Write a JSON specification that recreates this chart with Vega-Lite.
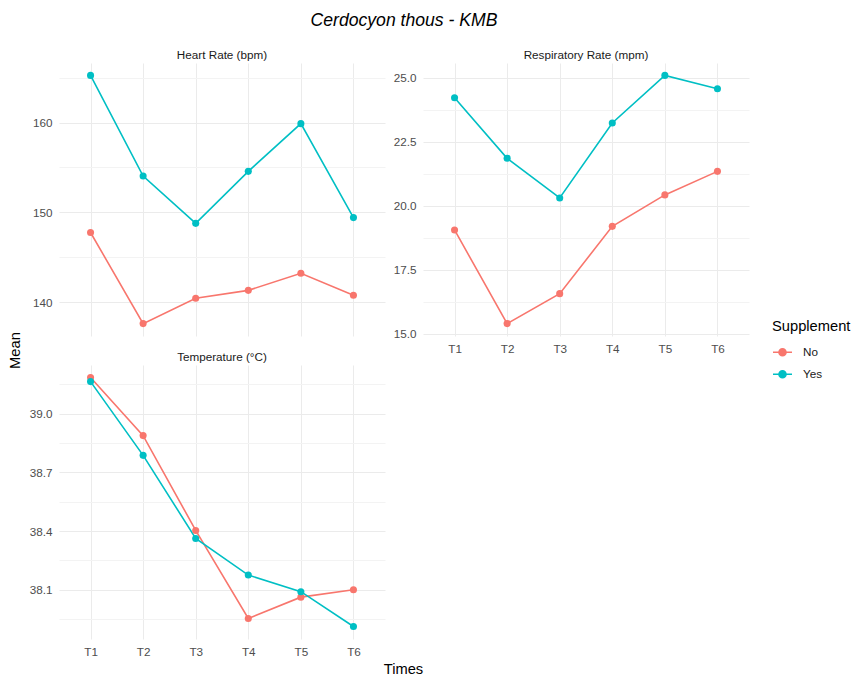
{
  "$schema": "https://vega.github.io/schema/vega-lite/v6.json",
  "autosize": {"type": "none"},
  "padding": {"left": 59, "top": 63, "right": 793, "bottom": 612},
  "background": "white",
  "bounds": "flush",
  "columns": 2,
  "spacing": {"row": 29, "column": 38},
  "title": {"text": "Cerdocyon thous - KMB", "fontStyle": "italic", "fontSize": 17.6, "fontWeight": "normal", "font": "Liberation Sans", "color": "black", "anchor": "middle", "baseline": "alphabetic", "offset": 6.5, "dx": 345, "frame": "group"},
  "data": {"values": [
    {"panel": "HR", "time": "T1", "supplement": "No", "mean": 147.75},
    {"panel": "HR", "time": "T2", "supplement": "No", "mean": 137.59},
    {"panel": "HR", "time": "T3", "supplement": "No", "mean": 140.41},
    {"panel": "HR", "time": "T4", "supplement": "No", "mean": 141.3},
    {"panel": "HR", "time": "T5", "supplement": "No", "mean": 143.2},
    {"panel": "HR", "time": "T6", "supplement": "No", "mean": 140.75},
    {"panel": "HR", "time": "T1", "supplement": "Yes", "mean": 165.27},
    {"panel": "HR", "time": "T2", "supplement": "Yes", "mean": 154.05},
    {"panel": "HR", "time": "T3", "supplement": "Yes", "mean": 148.77},
    {"panel": "HR", "time": "T4", "supplement": "Yes", "mean": 154.57},
    {"panel": "HR", "time": "T5", "supplement": "Yes", "mean": 159.89},
    {"panel": "HR", "time": "T6", "supplement": "Yes", "mean": 149.41},
    {"panel": "RR", "time": "T1", "supplement": "No", "mean": 19.05},
    {"panel": "RR", "time": "T2", "supplement": "No", "mean": 15.39},
    {"panel": "RR", "time": "T3", "supplement": "No", "mean": 16.56},
    {"panel": "RR", "time": "T4", "supplement": "No", "mean": 19.19},
    {"panel": "RR", "time": "T5", "supplement": "No", "mean": 20.42},
    {"panel": "RR", "time": "T6", "supplement": "No", "mean": 21.34},
    {"panel": "RR", "time": "T1", "supplement": "Yes", "mean": 24.22},
    {"panel": "RR", "time": "T2", "supplement": "Yes", "mean": 21.85},
    {"panel": "RR", "time": "T3", "supplement": "Yes", "mean": 20.3},
    {"panel": "RR", "time": "T4", "supplement": "Yes", "mean": 23.23},
    {"panel": "RR", "time": "T5", "supplement": "Yes", "mean": 25.09},
    {"panel": "RR", "time": "T6", "supplement": "Yes", "mean": 24.57},
    {"panel": "TEMP", "time": "T1", "supplement": "No", "mean": 39.185},
    {"panel": "TEMP", "time": "T2", "supplement": "No", "mean": 38.888},
    {"panel": "TEMP", "time": "T3", "supplement": "No", "mean": 38.403},
    {"panel": "TEMP", "time": "T4", "supplement": "No", "mean": 37.953},
    {"panel": "TEMP", "time": "T5", "supplement": "No", "mean": 38.062},
    {"panel": "TEMP", "time": "T6", "supplement": "No", "mean": 38.1},
    {"panel": "TEMP", "time": "T1", "supplement": "Yes", "mean": 39.164},
    {"panel": "TEMP", "time": "T2", "supplement": "Yes", "mean": 38.787},
    {"panel": "TEMP", "time": "T3", "supplement": "Yes", "mean": 38.362},
    {"panel": "TEMP", "time": "T4", "supplement": "Yes", "mean": 38.175},
    {"panel": "TEMP", "time": "T5", "supplement": "Yes", "mean": 38.09},
    {"panel": "TEMP", "time": "T6", "supplement": "Yes", "mean": 37.912}
  ]},
  "concat": [
    {
      "title": "Heart Rate (bpm)",
      "width": 326, "height": 273,
      "transform": [{"filter": "datum.panel === 'HR'"}],
      "encoding": {
        "x": {"field": "time", "type": "ordinal", "scale": {"type": "point", "padding": 0.6}, "axis": {"labels": false, "title": null, "grid": true}},
        "y": {"field": "mean", "type": "quantitative", "scale": {"domain": [136.21, 166.65], "nice": false, "zero": false},
              "axis": {"title": "Mean", "titleX": -44, "titleY": 287, "titleAngle": 270, "titleAlign": "center", "titleBaseline": "middle",
                       "values": [140, 145, 150, 155, 160, 165], "format": "d",
                       "labelExpr": "indexof([145,155,165], datum.value) >= 0 ? '' : datum.label",
                       "gridColor": {"condition": {"test": "indexof([145,155,165], datum.value) >= 0", "value": "#F3F3F3"}, "value": "#EBEBEB"}}},
        "color": {"field": "supplement", "type": "nominal", "scale": {"domain": ["No", "Yes"], "range": ["#F8766D", "#00BFC4"]},
                  "legend": {"title": "Supplement", "orient": "none", "legendX": 713, "legendY": 256}}
      },
      "layer": [
        {"mark": {"type": "line", "strokeWidth": 1.6}},
        {"mark": {"type": "point", "filled": true, "size": 50, "opacity": 1}}
      ]
    },
    {
      "title": "Respiratory Rate (mpm)",
      "width": 326, "height": 273,
      "transform": [{"filter": "datum.panel === 'RR'"}],
      "encoding": {
        "x": {"field": "time", "type": "ordinal", "scale": {"type": "point", "padding": 0.6}, "axis": {"title": null, "grid": true, "labelAngle": 0}},
        "y": {"field": "mean", "type": "quantitative", "scale": {"domain": [14.905, 25.575], "nice": false, "zero": false},
              "axis": {"title": null, "values": [15, 16.25, 17.5, 18.75, 20, 21.25, 22.5, 23.75, 25], "format": ".1f",
                       "labelExpr": "indexof([16.25,18.75,21.25,23.75], datum.value) >= 0 ? '' : datum.label",
                       "gridColor": {"condition": {"test": "indexof([16.25,18.75,21.25,23.75], datum.value) >= 0", "value": "#F3F3F3"}, "value": "#EBEBEB"}}},
        "color": {"field": "supplement", "type": "nominal", "scale": {"domain": ["No", "Yes"], "range": ["#F8766D", "#00BFC4"]},
                  "legend": {"title": "Supplement", "orient": "none", "legendX": 713, "legendY": 256}}
      },
      "layer": [
        {"mark": {"type": "line", "strokeWidth": 1.6}},
        {"mark": {"type": "point", "filled": true, "size": 50, "opacity": 1}}
      ]
    },
    {
      "title": "Temperature (°C)",
      "width": 326, "height": 274,
      "transform": [{"filter": "datum.panel === 'TEMP'"}],
      "encoding": {
        "x": {"field": "time", "type": "ordinal", "scale": {"type": "point", "padding": 0.6},
              "axis": {"title": "Times", "grid": true, "labelAngle": 0, "titleX": 344, "titleY": 34, "titleAlign": "center", "titleBaseline": "alphabetic"}},
        "y": {"field": "mean", "type": "quantitative", "scale": {"domain": [37.848, 39.249], "nice": false, "zero": false},
              "axis": {"title": null,
                       "values": [37.95, 38.1, 38.25, 38.4, 38.55, 38.7, 38.85, 39.0, 39.15], "format": ".1f",
                       "labelExpr": "indexof([37.95,38.25,38.55,38.85,39.15], datum.value) >= 0 ? '' : datum.label",
                       "gridColor": {"condition": {"test": "indexof([37.95,38.25,38.55,38.85,39.15], datum.value) >= 0", "value": "#F3F3F3"}, "value": "#EBEBEB"}}},
        "color": {"field": "supplement", "type": "nominal", "scale": {"domain": ["No", "Yes"], "range": ["#F8766D", "#00BFC4"]},
                  "legend": {"title": "Supplement", "orient": "none", "legendX": 713, "legendY": 256}}
      },
      "layer": [
        {"mark": {"type": "line", "strokeWidth": 1.6}},
        {"mark": {"type": "point", "filled": true, "size": 50, "opacity": 1}}
      ]
    }
  ],
  "config": {
    "font": "Liberation Sans",
    "view": {"stroke": null},
    "axis": {"domain": false, "ticks": false, "tickSize": 0, "labelFont": "Liberation Sans", "labelFontSize": 11.7, "labelColor": "#4D4D4D", "labelPadding": 7,
             "gridColor": "#EBEBEB", "gridWidth": 1, "titleFont": "Liberation Sans", "titleFontSize": 14.7, "titleColor": "black", "titleFontWeight": "normal"},
    "title": {"font": "Liberation Sans", "fontSize": 11.7, "fontWeight": "normal", "color": "#1A1A1A", "offset": 1, "baseline": "alphabetic"},
    "legend": {"titleFont": "Liberation Sans", "titleFontSize": 14.7, "titleFontWeight": "normal", "titleColor": "black", "titlePadding": 8,
               "labelFont": "Liberation Sans", "labelFontSize": 11.7, "labelColor": "#1A1A1A", "labelOffset": 10, "rowPadding": 4,
               "symbolType": "M-1,0L1,0M0.37,0A0.37,0.37,0,1,1,-0.37,0A0.37,0.37,0,1,1,0.37,0Z", "symbolSize": 361, "symbolStrokeWidth": 1.6, "padding": 0}
  }
}
